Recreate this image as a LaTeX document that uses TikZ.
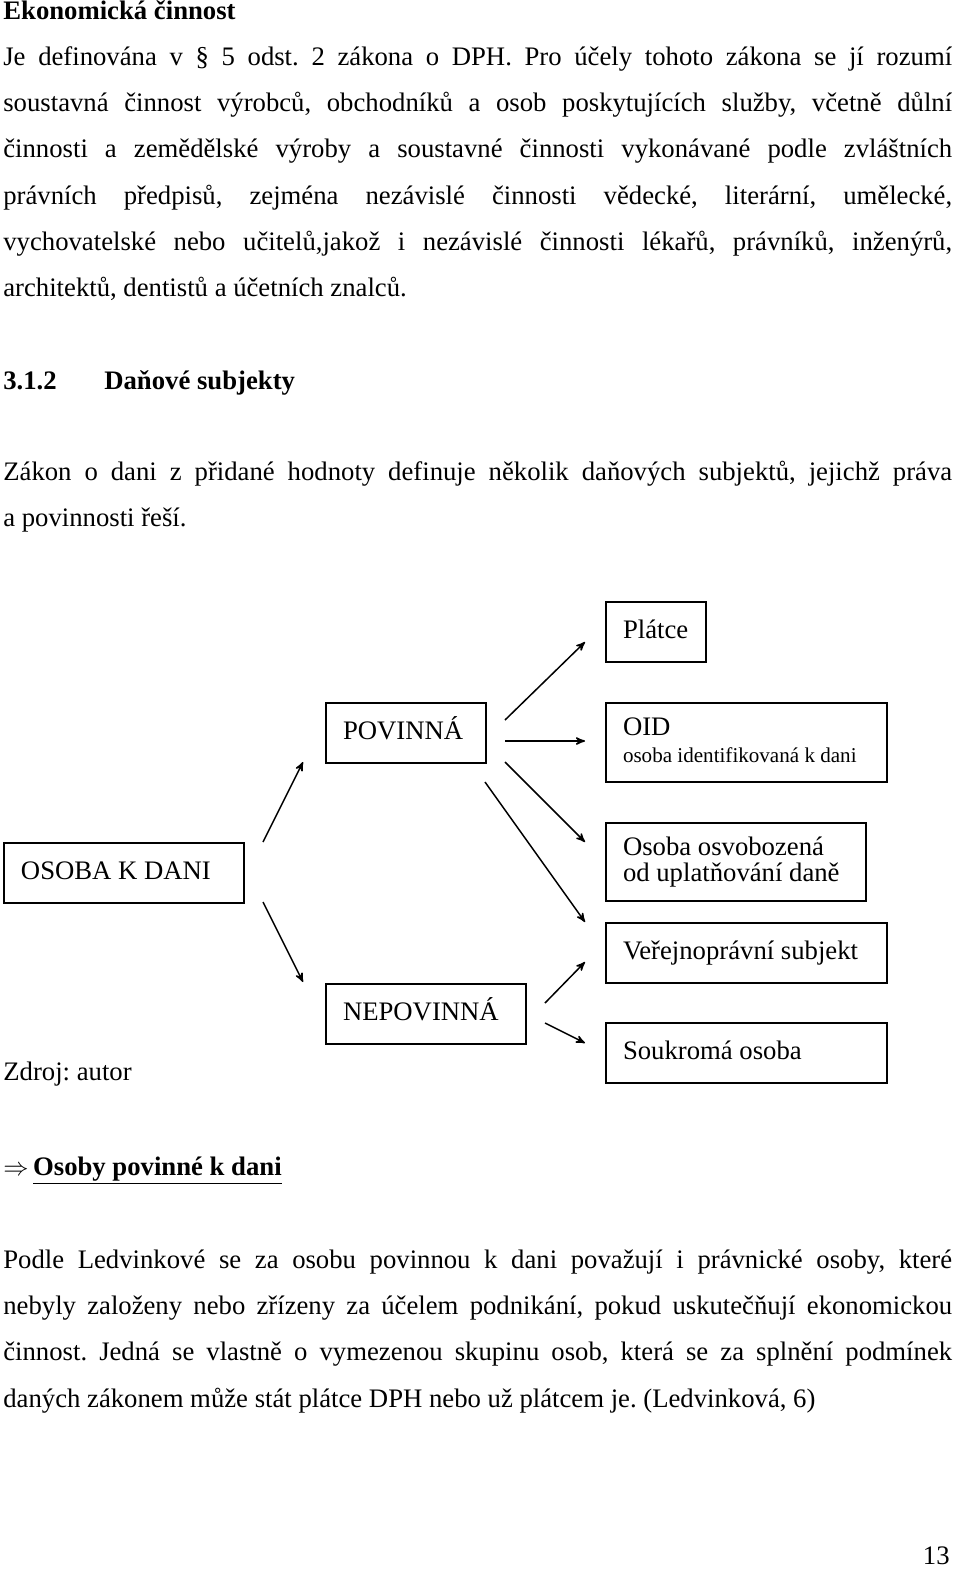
\documentclass[tikz,border=0pt]{standalone}
\usepackage{fontspec}
\setmainfont{Liberation Serif}
\usetikzlibrary{arrows}
\tikzset{
    tline/.style =  {anchor=base west,
                    inner sep=0pt},
    box/.style =    {rectangle,
                    draw=black,
                    line width=0.04cm,
                    anchor=north west,
                    inner xsep=0.34cm,
                    inner ysep=0pt},
    link/.style =   {-stealth', line width=0.03cm, shorten >= 0pt},
    >=stealth'}
\newcommand{\jl}[1]{\makebox[18.98cm][s]{#1}}
\newcommand{\bx}[2]{\makebox[#1][l]{\begin{tabular}{@{}l@{}}#2\end{tabular}}}
\begin{document}
\begin{tikzpicture}[x=0.02cm,y=-0.02cm,font=\fontsize{15.2}{18}\selectfont\frenchspacing]
\useasboundingbox (0,0) rectangle (960,1576);
% text above
\node[tline] (head) at (3,19) {\textbf{Ekonomická činnost}};
\node[tline] (p1) at (3,65)  {\jl{Je definována v \S\ 5 odst. 2 zákona o DPH. Pro účely tohoto zákona se jí rozumí}};
\node[tline] (p2) at (3,111) {\jl{soustavná činnost výrobců, obchodníků a osob poskytujících služby, včetně důlní}};
\node[tline] (p3) at (3,157) {\jl{činnosti a zemědělské výroby a soustavné činnosti vykonávané podle zvláštních}};
\node[tline] (p4) at (3,204) {\jl{právních předpisů, zejména nezávislé činnosti vědecké, literární, umělecké,}};
\node[tline] (p5) at (3,250) {\jl{vychovatelské nebo učitelů,jakož i nezávislé činnosti lékařů, právníků, inženýrů,}};
\node[tline] (p6) at (3,296) {architektů, dentistů a účetních znalců.};
\node[tline] (secnum) at (3,389) {\textbf{3.1.2}};
\node[tline] (sec) at (104,389) {\textbf{Daňové subjekty}};
\node[tline] (z1) at (3,480) {\jl{Zákon o dani z přidané hodnoty definuje několik daňových subjektů, jejichž práva}};
\node[tline] (z2) at (3,526) {a povinnosti řeší.};
% diagram
\node[box, minimum height=1.2cm]  (platce)  at (605,601)  {\bx{1.32cm}{Plátce}};
\node[box, minimum height=1.2cm]  (povinna) at (325,702)  {\bx{2.52cm}{POVINNÁ}};
\node[box, minimum height=1.58cm] (oid)     at (605,702)  {\bx{4.94cm}{OID\\[-3pt]{\fontsize{12}{14}\selectfont osoba identifikovaná k dani}}};
\node[box, minimum height=1.2cm]  (osoba)   at (3,842)    {\bx{4.12cm}{OSOBA K DANI}};
\node[box, minimum height=1.56cm] (osvob)   at (605,822)  {\bx{4.52cm}{Osoba osvobozená\\[-3pt]od uplatňování daně}};
\node[box, minimum height=1.2cm]  (verej)   at (605,922)  {\bx{4.94cm}{Veřejnoprávní subjekt}};
\node[box, minimum height=1.2cm]  (nepov)   at (325,983)  {\bx{3.32cm}{NEPOVINNÁ}};
\node[box, minimum height=1.2cm]  (soukr)   at (605,1022) {\bx{4.94cm}{Soukromá osoba}};
\coordinate (a1) at (263,842);  \coordinate (b1) at (303,762);
\coordinate (a2) at (263,902);  \coordinate (b2) at (303,982);
\coordinate (a3) at (505,720);  \coordinate (b3) at (585,642);
\coordinate (a4) at (505,741);  \coordinate (b4) at (585,741);
\coordinate (a5) at (505,762);  \coordinate (b5) at (585,842);
\coordinate (a6) at (485,782);  \coordinate (b6) at (585,922);
\coordinate (a7) at (545,1003); \coordinate (b7) at (585,962);
\coordinate (a8) at (545,1023); \coordinate (b8) at (585,1043);
\foreach \i in {1,...,8}
    \draw[link] (a\i) -- (b\i);
\node[tline] (zdroj) at (3,1080) {Zdroj: autor};
% text below
\node[tline] (osoby) at (3,1175) {$\Rightarrow$\,\underline{\textbf{Osoby povinné k dani}}};
\node[tline] (q1) at (3,1268) {\jl{Podle Ledvinkové se za osobu povinnou k dani považují i právnické osoby, které}};
\node[tline] (q2) at (3,1314) {\jl{nebyly založeny nebo zřízeny za účelem podnikání, pokud uskutečňují ekonomickou}};
\node[tline] (q3) at (3,1360) {\jl{činnost. Jedná se vlastně o vymezenou skupinu osob, která se za splnění podmínek}};
\node[tline] (q4) at (3,1407) {daných zákonem může stát plátce DPH nebo už plátcem je. (Ledvinková, 6)};
\node[anchor=base east, inner sep=0pt] (page) at (950,1564) {13};
\end{tikzpicture}
\end{document}
